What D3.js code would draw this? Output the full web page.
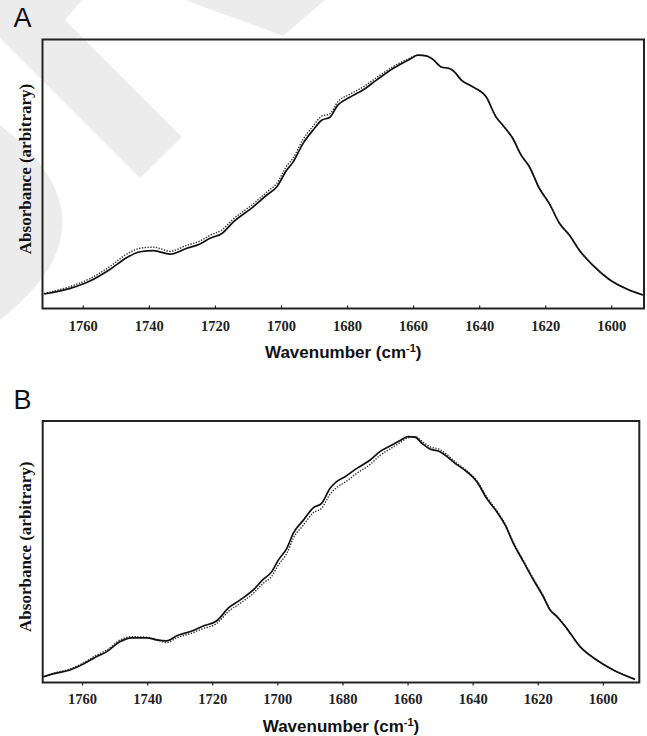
<!DOCTYPE html>
<html>
<head>
<meta charset="utf-8">
<script src="https://cdn.jsdelivr.net/npm/d3@7/dist/d3.min.js"></script>
<style>
  html, body { margin: 0; padding: 0; background: #fff; }
  svg { display: block; }
</style>
</head>
<body>
<svg id="chart" width="647" height="736"></svg>
<script>
// Amide I band, panel A: wavenumber (cm-1) and normalised absorbance
const waveA = [1771.8,1763.8,1757.7,1751.7,1746.6,1742.6,1738.6,1733.6,1728.5,1724.5,1721.5,1717.9,1714.4,1708.4,1704.3,1701.3,1698.3,1696.3,1693.3,1690.3,1687.7,1685.2,1682.8,1679.2,1675.2,1671.1,1666.1,1661.1,1658.5,1656.0,1654.0,1651.5,1649.0,1647.5,1645.4,1641.9,1637.9,1634.9,1632.9,1629.8,1627.3,1624.8,1621.8,1618.8,1615.7,1612.7,1609.7,1605.7,1600.6,1595.6,1590.4];
const solidA = [0.054,0.075,0.103,0.146,0.190,0.211,0.215,0.202,0.224,0.240,0.261,0.279,0.322,0.378,0.422,0.452,0.514,0.545,0.614,0.663,0.700,0.711,0.756,0.785,0.812,0.849,0.892,0.926,0.942,0.939,0.926,0.898,0.892,0.880,0.849,0.824,0.787,0.712,0.682,0.632,0.570,0.527,0.447,0.391,0.317,0.273,0.217,0.162,0.108,0.074,0.050];
const dottedA = [0.056,0.082,0.112,0.157,0.203,0.224,0.228,0.213,0.235,0.251,0.272,0.292,0.333,0.389,0.433,0.465,0.529,0.560,0.629,0.678,0.715,0.724,0.769,0.796,0.823,0.858,0.899,0.930,0.942,0.939,0.926,0.898,0.892,0.880,0.849,0.824,0.787,0.712,0.682,0.632,0.570,0.527,0.447,0.391,0.317,0.273,0.217,0.162,0.108,0.074,0.050];

// Panel B
const waveB = [1771.9,1768.3,1763.7,1759.6,1755.5,1752.4,1748.4,1744.8,1740.1,1737.1,1734.0,1730.9,1726.3,1722.8,1718.6,1715.1,1711.5,1707.4,1704.3,1701.7,1699.7,1697.1,1695.1,1692.0,1689.0,1686.4,1683.8,1681.8,1679.2,1675.6,1671.5,1668.5,1665.4,1662.3,1659.9,1657.7,1655.6,1653.1,1650.5,1648.5,1645.4,1641.8,1638.7,1635.7,1632.6,1630.0,1627.5,1624.4,1621.3,1618.3,1616.2,1614.1,1611.1,1607.0,1601.9,1596.8,1590.1];
const solidB = [0.022,0.035,0.048,0.071,0.099,0.118,0.156,0.171,0.171,0.163,0.159,0.179,0.197,0.216,0.236,0.284,0.315,0.354,0.395,0.424,0.468,0.513,0.571,0.621,0.668,0.685,0.743,0.768,0.787,0.819,0.851,0.883,0.904,0.925,0.940,0.938,0.915,0.893,0.885,0.870,0.838,0.806,0.768,0.704,0.653,0.602,0.532,0.462,0.392,0.328,0.277,0.252,0.207,0.137,0.086,0.048,0.012];
const dottedB = [0.022,0.037,0.052,0.075,0.105,0.124,0.162,0.175,0.173,0.163,0.153,0.171,0.189,0.206,0.226,0.271,0.302,0.341,0.380,0.407,0.449,0.494,0.552,0.602,0.649,0.666,0.720,0.745,0.766,0.800,0.834,0.868,0.893,0.917,0.936,0.940,0.923,0.901,0.893,0.878,0.844,0.810,0.772,0.710,0.657,0.606,0.536,0.466,0.396,0.332,0.279,0.254,0.207,0.137,0.086,0.048,0.012];

const tickValues = [1760, 1740, 1720, 1700, 1680, 1660, 1640, 1620, 1600];
const panelLetters = ["A", "B"];
const xTitle = "Wavenumber (cm";
const xTitleSup = "-1";
const yTitle = "Absorbance (arbitrary)";

const svg = d3.select("#chart");

// faint background watermark shapes
const wm = svg.append("g").attr("fill", "#ececec");
wm.append("path").attr("d", "M0,0 L82,0 L65,20 L182,137 L140,178 L0,38 Z");
wm.append("path").attr("d", "M185,0 L283,36 L325,0 Z");
wm.append("path").attr("d", "M0,125 Q125,222 0,320 Z");

const panels = [
  { letter: panelLetters[0], wave: waveA, solid: solidA, dotted: dottedA,
    left: 42.5, right: 644, top: 39.5, bottom: 308.5, xDomain: [1772.2, 1590.1],
    tickDir: "in", tickBase: 331, titleBase: 358, letterBase: 26.5 },
  { letter: panelLetters[1], wave: waveB, solid: solidB, dotted: dottedB,
    left: 42.7, right: 639.3, top: 421, bottom: 682.5, xDomain: [1772.1, 1588.8],
    tickDir: "out", tickBase: 704.3, titleBase: 731.5, letterBase: 409 }
];

panels.forEach(p => {
  const g = svg.append("g");
  const x = d3.scaleLinear().domain(p.xDomain).range([p.left, p.right]);
  const y = d3.scaleLinear().domain([0, 1]).range([p.bottom, p.top]);

  // spectra
  const pts = (vals) => p.wave.map((w, i) => [w, vals[i]]);
  const line = d3.line().x(d => x(d[0])).y(d => y(d[1])).curve(d3.curveMonotoneX);

  g.append("path")
    .attr("d", line(pts(p.dotted)))
    .attr("fill", "none")
    .attr("stroke", "#333")
    .attr("stroke-width", 1.4)
    .attr("stroke-dasharray", "1.4,1.4");

  g.append("path")
    .attr("d", line(pts(p.solid)))
    .attr("fill", "none")
    .attr("stroke", "#111")
    .attr("stroke-width", 1.7);

  // bottom axis
  const axis = d3.axisBottom(x)
    .tickValues(tickValues)
    .tickFormat(d3.format("d"))
    .tickSizeOuter(0)
    .tickSizeInner(p.tickDir === "in" ? -3 : 3)
    .tickPadding(0);

  const ax = g.append("g")
    .attr("transform", `translate(0,${p.bottom})`)
    .call(axis);
  ax.select(".domain").remove();
  ax.selectAll(".tick line").attr("stroke", "#222").attr("stroke-width", 1.2);
  ax.selectAll(".tick text")
    .attr("y", p.tickBase - p.bottom)
    .attr("dy", null)
    .attr("fill", "#222")
    .style("font-family", "'Liberation Serif', 'Times New Roman', serif")
    .style("font-weight", "bold")
    .style("font-size", "14.5px");

  // frame
  g.append("rect")
    .attr("x", p.left).attr("y", p.top)
    .attr("width", p.right - p.left).attr("height", p.bottom - p.top)
    .attr("fill", "none")
    .attr("stroke", "#222")
    .attr("stroke-width", 2);

  // axis titles
  const xt = g.append("text")
    .attr("x", (p.left + p.right) / 2)
    .attr("y", p.titleBase)
    .attr("text-anchor", "middle")
    .attr("fill", "#111")
    .style("font-family", "'Liberation Sans', Arial, sans-serif")
    .style("font-weight", "bold")
    .style("font-size", "17px");
  xt.append("tspan").text(xTitle);
  xt.append("tspan").attr("dy", -6).style("font-size", "11px").text(xTitleSup);
  xt.append("tspan").attr("dy", 6).text(")");

  g.append("text")
    .attr("transform", `translate(31,${(p.top + p.bottom) / 2 - 5}) rotate(-90)`)
    .attr("text-anchor", "middle")
    .attr("fill", "#111")
    .style("font-family", "'Liberation Serif', 'Times New Roman', serif")
    .style("font-weight", "bold")
    .style("font-size", "17px")
    .text(yTitle);

  // panel letter
  g.append("text")
    .attr("x", 13.5)
    .attr("y", p.letterBase)
    .attr("fill", "#111")
    .style("font-family", "'Liberation Sans', Arial, sans-serif")
    .style("font-size", "27px")
    .text(p.letter);
});
</script>
</body>
</html>
